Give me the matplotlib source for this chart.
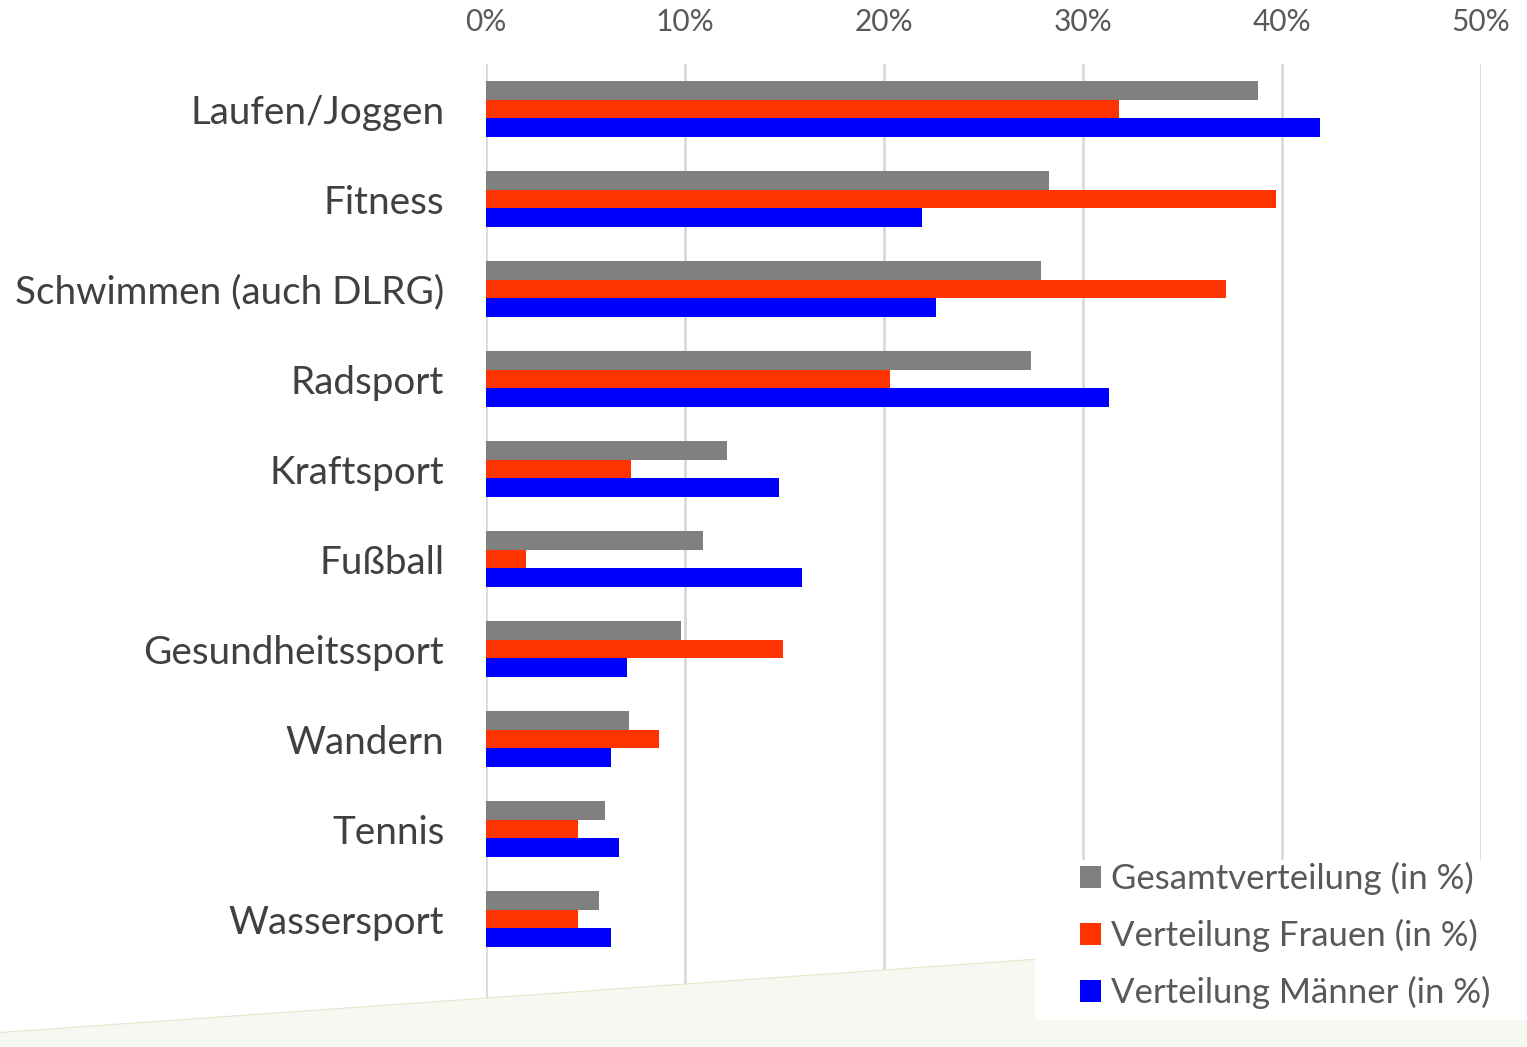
import matplotlib.pyplot as plt
from matplotlib.patches import Polygon, Patch, Rectangle
from matplotlib.lines import Line2D

# data (percent)
sports = ['Laufen/Joggen', 'Fitness', 'Schwimmen (auch DLRG)', 'Radsport', 'Kraftsport',
          'Fußball', 'Gesundheitssport', 'Wandern', 'Tennis', 'Wassersport']
gesamt = [38.8, 28.3, 27.9, 27.4, 12.1, 10.9, 9.8, 7.2, 6.0, 5.7]
frauen = [31.8, 39.7, 37.2, 20.3, 7.3, 2.0, 14.9, 8.7, 4.6, 4.6]
maenner = [41.9, 21.9, 22.6, 31.3, 14.7, 15.9, 7.1, 6.3, 6.7, 6.3]
series_names = ['Gesamtverteilung (in %)', 'Verteilung Frauen (in %)', 'Verteilung Männer (in %)']
colors = ['#808080', '#ff3300', '#0000ff']
xticks = [0, 10, 20, 30, 40, 50]

plt.rcParams['font.family'] = ['Lato', 'DejaVu Sans']

W, H = 1527, 1047
fig = plt.figure(figsize=(W / 100, H / 100), dpi=100)

# light green wedge in the background, only the slanted top edge is visible
y0, y1 = 1 - 1033 / H, 1 - 925 / H
fig.patches.append(Polygon([(0, y0), (1, y1), (1, 0), (0, 0)], closed=True,
                           transform=fig.transFigure, facecolor='#f6f9f1',
                           edgecolor='none', zorder=0))
fig.lines.append(Line2D([0, 1], [y0, y1], transform=fig.transFigure,
                        color='#dfe6c8', linewidth=1.5, zorder=0))

ax = fig.add_axes([486 / W, 0, (1481 - 486) / W, 1 - 64 / H])
ax.patch.set_visible(False)

h = 0.206
ypos = list(range(len(sports)))
for k, (vals, c) in enumerate(zip([gesamt, frauen, maenner], colors)):
    ax.barh([y + (k - 1) * h for y in ypos], vals, height=h, color=c, zorder=3)

ax.set_xlim(0, 50)
ax.set_ylim(10.42, -0.5)
ax.set_xticks(xticks)
ax.set_xticklabels([f'{t}%' for t in xticks])
ax.xaxis.tick_top()
ax.tick_params(axis='x', length=0, pad=20, labelsize=21.5, labelcolor='#595959')
ax.set_yticks(ypos)
ax.set_yticklabels(sports)
ax.tick_params(axis='y', length=0, pad=30, labelsize=27.8, labelcolor='#404040')
ax.grid(axis='x', color='#d9d9d9', linewidth=2, zorder=1)
for s in ax.spines.values():
    s.set_visible(False)

# white legend box covering the grid
fig.patches.append(Rectangle((1035 / W, 1 - 1020 / H), (W - 1035) / W, 160 / H,
                             transform=fig.transFigure, facecolor='white',
                             edgecolor='none', zorder=5))
handles = [Patch(facecolor=c, edgecolor='none') for c in colors]
leg = fig.legend(handles, series_names, loc='upper left', bbox_to_anchor=(1080 / W, 1 - 862 / H),
                 frameon=False, fontsize=25, handlelength=0.6, handleheight=0.6,
                 handletextpad=0.3, labelspacing=0.69, borderpad=0, borderaxespad=0)
leg.set_zorder(6)
for t in leg.get_texts():
    t.set_color('#595959')

fig.savefig('out.png', dpi=100)
